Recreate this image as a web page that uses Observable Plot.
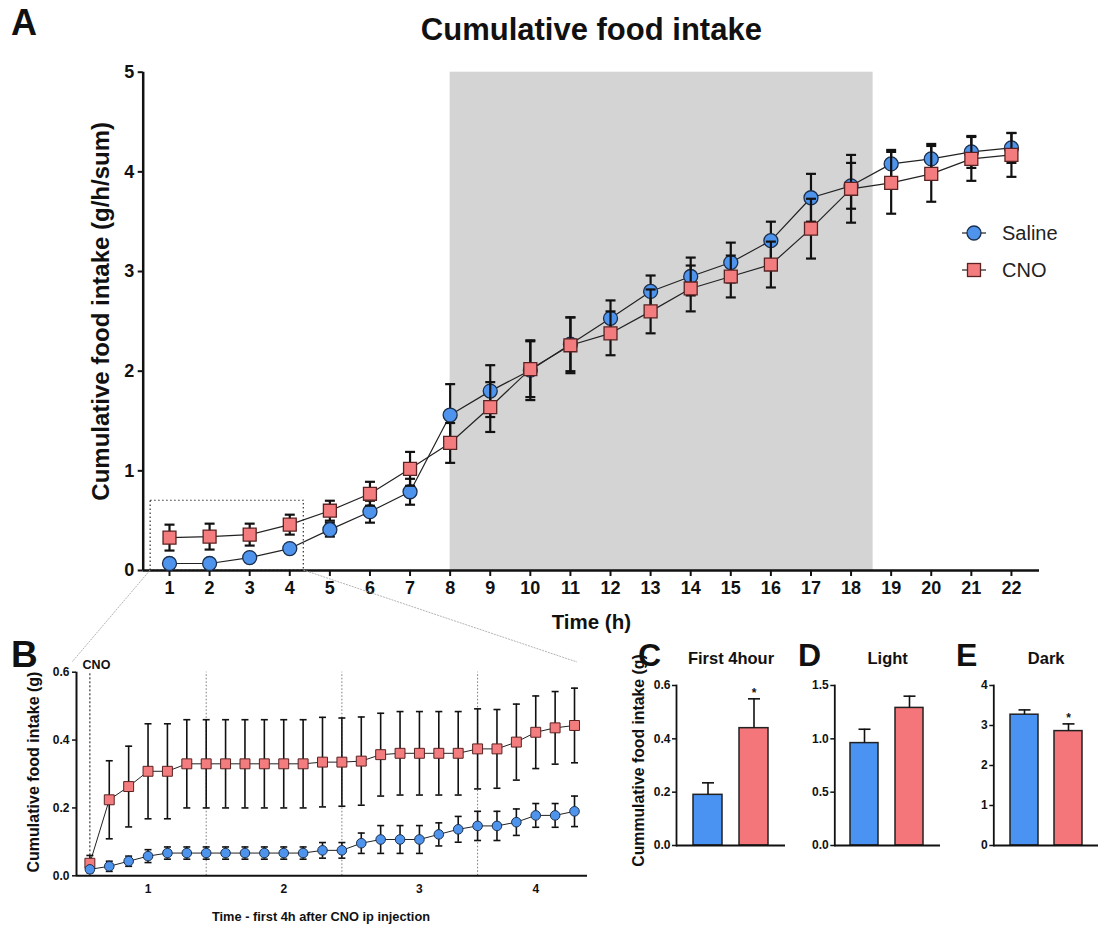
<!DOCTYPE html>
<html><head><meta charset="utf-8">
<script src="https://cdn.jsdelivr.net/npm/d3@7"></script>
<script src="https://cdn.jsdelivr.net/npm/@observablehq/plot@0.6"></script>
<style>
body{margin:0;background:#fff;}
#fig{position:relative;width:1099px;height:927px;font-family:"Liberation Sans",Arial,Helvetica,sans-serif;overflow:hidden;background:#fff;}
#fig > *{position:absolute;}
.letter{font-weight:bold;line-height:1;color:#111;}
</style></head><body><div id="fig"></div>
<script>
// ---------- Panel A: cumulative food intake per hour ----------
const hoursA = [1,2,3,4,5,6,7,8,9,10,11,12,13,14,15,16,17,18,19,20,21,22];
const salineA    = [0.07,0.07,0.13,0.22,0.41,0.59,0.79,1.56,1.80,2.01,2.27,2.53,2.80,2.95,3.09,3.31,3.74,3.86,4.08,4.13,4.20,4.24];
const salineAErr = [0.03,0.03,0.04,0.04,0.07,0.11,0.13,0.31,0.26,0.30,0.27,0.18,0.16,0.19,0.20,0.19,0.24,0.23,0.14,0.15,0.16,0.15];
const cnoA       = [0.33,0.34,0.36,0.46,0.60,0.77,1.02,1.28,1.64,2.02,2.26,2.38,2.60,2.83,2.95,3.07,3.43,3.83,3.89,3.98,4.13,4.17];
const cnoAErr    = [0.13,0.13,0.11,0.10,0.10,0.12,0.17,0.20,0.25,0.28,0.28,0.22,0.22,0.23,0.21,0.23,0.30,0.34,0.31,0.28,0.22,0.22];
const darkPhase  = [8, 18.55];
const zoomBox    = [0.53, 4.35, 0, 0.70];
const yTicksA    = [0,1,2,3,4,5];

// ---------- Panel B: first 4 h after CNO (10-min bins) ----------
const binsB = [0,1,2,3,4,5,6,7,8,9,10,11,12,13,14,15,16,17,18,19,20,21,22,23,24,25];
const salineB    = [0.019,0.028,0.043,0.058,0.067,0.067,0.067,0.067,0.067,0.067,0.067,0.067,0.075,0.075,0.096,0.107,0.107,0.107,0.122,0.137,0.147,0.147,0.158,0.178,0.178,0.190];
const salineBErr = [0.010,0.015,0.015,0.019,0.018,0.018,0.018,0.018,0.018,0.018,0.018,0.018,0.023,0.023,0.030,0.041,0.041,0.041,0.034,0.038,0.043,0.043,0.039,0.035,0.035,0.045];
const cnoB       = [0.037,0.224,0.263,0.308,0.308,0.330,0.330,0.330,0.330,0.330,0.330,0.330,0.335,0.335,0.338,0.357,0.361,0.361,0.361,0.361,0.374,0.374,0.394,0.423,0.436,0.443];
const cnoBErr    = [0.023,0.115,0.119,0.140,0.140,0.130,0.130,0.130,0.130,0.130,0.130,0.130,0.132,0.130,0.130,0.122,0.123,0.123,0.123,0.123,0.118,0.116,0.112,0.107,0.107,0.110];
const hourMarksB = [0,6,13,20];
const hourTicksB = [3,10,17,23];
const hourTickLabelsB = ["1","2","3","4"];
const yTicksB = [0,0.2,0.4,0.6];

// ---------- Panels C, D, E ----------
const groups = ["Saline","CNO"];
const first4Mean = [0.19,0.44], first4Err = [0.045,0.11], first4Sig = [false,true];
const lightMean  = [0.96,1.29], lightErr  = [0.13,0.11],  lightSig  = [false,false];
const darkMean   = [3.27,2.86], darkErr   = [0.12,0.18],  darkSig   = [false,true];

const COL_SAL = "#4f94ec", COL_CNO = "#f37d7e";
const BAR_SAL = "#4a93f2", BAR_CNO = "#f4767a";
const FONT = '"Liberation Sans", Arial, Helvetica, sans-serif';
const capSym = {draw(ctx, size){const r=Math.sqrt(size/Math.PI); ctx.moveTo(-r,0); ctx.lineTo(r,0);}};
const fig = document.getElementById("fig");
function place(el, left, top){el.style.left=left+"px"; el.style.top=top+"px"; fig.appendChild(el); return el;}
const LBL = {textAnchor:"middle", lineAnchor:"middle", fontWeight:"bold"};

// ---------- Plot A ----------
const A = hoursA.map((h,i)=>({h, s:salineA[i], se:salineAErr[i], c:cnoA[i], ce:cnoAErr[i]}));
const xDomA = [0.344, 22.70];
const plotA = Plot.plot({
  width:1099, height:640, marginLeft:142.7, marginRight:60, marginTop:71.7, marginBottom:70,
  x:{domain:xDomA}, y:{domain:[0,5]},
  style:{fontFamily:FONT, fontWeight:"bold", fontSize:"18px", color:"#111", background:"transparent", overflow:"visible"},
  marks:[
    Plot.rect([{x1:darkPhase[0], x2:darkPhase[1]}], {x1:"x1", x2:"x2", y1:0, y2:5, fill:"#d4d4d4"}),
    Plot.rect([zoomBox], {x1:d=>d[0], x2:d=>d[1], y1:d=>d[2], y2:d=>d[3], fill:"none", stroke:"#333", strokeWidth:1.2, strokeDasharray:"1.5,2.5"}),
    Plot.axisX({ticks:hoursA, tickFormat:"d", tickSize:6, tickPadding:5, strokeWidth:2, label:null}),
    Plot.axisY({ticks:yTicksA, tickFormat:"d", tickSize:5, tickPadding:4, strokeWidth:2, label:null}),
    Plot.ruleY([0], {stroke:"#111", strokeWidth:2.5}),
    Plot.ruleX([xDomA[0]], {y1:0, y2:5, stroke:"#111", strokeWidth:2.5}),
    Plot.line(A, {x:"h", y:"s", stroke:"#222", strokeWidth:1.2}),
    Plot.line(A, {x:"h", y:"c", stroke:"#222", strokeWidth:1.2}),
    Plot.ruleX(A, {x:"h", y1:d=>d.s-d.se, y2:d=>d.s+d.se, stroke:"#111", strokeWidth:2.2}),
    Plot.dot(A, {x:"h", y:d=>d.s+d.se, symbol:capSym, r:5, stroke:"#111", strokeWidth:2.2}),
    Plot.dot(A, {x:"h", y:d=>d.s-d.se, symbol:capSym, r:5, stroke:"#111", strokeWidth:2.2}),
    Plot.dot(A, {x:"h", y:"s", r:7, fill:COL_SAL, stroke:"#1b2f4d", strokeWidth:1.3}),
    Plot.ruleX(A, {x:"h", y1:d=>d.c-d.ce, y2:d=>d.c+d.ce, stroke:"#111", strokeWidth:2.2}),
    Plot.dot(A, {x:"h", y:d=>d.c+d.ce, symbol:capSym, r:5, stroke:"#111", strokeWidth:2.2}),
    Plot.dot(A, {x:"h", y:d=>d.c-d.ce, symbol:capSym, r:5, stroke:"#111", strokeWidth:2.2}),
    Plot.dot(A, {x:"h", y:"c", r:7.3, symbol:"square", fill:COL_CNO, stroke:"#5a2222", strokeWidth:1.3}),
    Plot.text(["Cumulative food intake"], {...LBL, text:d=>d, frameAnchor:"top", dy:-42, fontSize:31}),
    Plot.text(["Cumulative food intake (g/h/sum)"], {...LBL, text:d=>d, frameAnchor:"left", dx:-42, dy:-10, rotate:-90, fontSize:24}),
    Plot.text(["Time (h)"], {...LBL, text:d=>d, frameAnchor:"bottom", dy:52, fontSize:20.5})
  ]
});
place(plotA, 0, 0);

// ---------- Plot B ----------
const B = binsB.map((b,i)=>({b, s:salineB[i], se:salineBErr[i], c:cnoB[i], ce:cnoBErr[i]}));
const xDomB = [-0.69, 25.67];
const plotB = Plot.plot({
  width:600, height:287, marginLeft:76, marginRight:13, marginTop:31.7, marginBottom:51.7,
  x:{domain:xDomB}, y:{domain:[0,0.6]},
  style:{fontFamily:FONT, fontWeight:"bold", fontSize:"12px", color:"#111", background:"transparent", overflow:"visible"},
  marks:[
    Plot.ruleX(hourMarksB.slice(0,1), {y1:0, y2:0.6, stroke:"#111", strokeWidth:1, strokeDasharray:"2,2"}),
    Plot.ruleX(hourMarksB.slice(1), {y1:0, y2:0.6, stroke:"#777", strokeWidth:1, strokeDasharray:"1.5,2"}),
    Plot.text([{x:hourMarksB[0], label:"CNO"}], {x:"x", text:"label", frameAnchor:"top", lineAnchor:"middle", dy:-7, dx:-7.3, textAnchor:"start", fontSize:12.5, fontWeight:"bold"}),
    Plot.axisY({ticks:yTicksB, tickFormat:".1f", tickSize:4, tickPadding:3, strokeWidth:1.5, label:null}),
    Plot.axisX({ticks:hourTicksB, tickFormat:d=>hourTickLabelsB[hourTicksB.indexOf(d)], tickSize:0, tickPadding:9, label:null}),
    Plot.ruleY([0], {stroke:"#111", strokeWidth:2}),
    Plot.ruleX([xDomB[0]], {y1:0, y2:0.6, stroke:"#111", strokeWidth:2}),
    Plot.line(B, {x:"b", y:"c", stroke:"#222", strokeWidth:1}),
    Plot.line(B, {x:"b", y:"s", stroke:"#222", strokeWidth:1}),
    Plot.ruleX(B, {x:"b", y1:d=>d.c-d.ce, y2:d=>d.c+d.ce, stroke:"#111", strokeWidth:1.6}),
    Plot.dot(B, {x:"b", y:d=>d.c+d.ce, symbol:capSym, r:3.5, stroke:"#111", strokeWidth:1.6}),
    Plot.dot(B, {x:"b", y:d=>d.c-d.ce, symbol:capSym, r:3.5, stroke:"#111", strokeWidth:1.6}),
    Plot.ruleX(B, {x:"b", y1:d=>d.s-d.se, y2:d=>d.s+d.se, stroke:"#111", strokeWidth:1.6}),
    Plot.dot(B, {x:"b", y:d=>d.s+d.se, symbol:capSym, r:3.5, stroke:"#111", strokeWidth:1.6}),
    Plot.dot(B, {x:"b", y:d=>d.s-d.se, symbol:capSym, r:3.5, stroke:"#111", strokeWidth:1.6}),
    Plot.dot(B, {x:"b", y:"c", r:5.6, symbol:"square", fill:COL_CNO, stroke:"#5a2222", strokeWidth:1}),
    Plot.dot(B, {x:"b", y:"s", r:4.8, fill:COL_SAL, stroke:"#1b2f4d", strokeWidth:1}),
    Plot.text(["Cumulative food intake (g)"], {...LBL, text:d=>d, frameAnchor:"left", dx:-43, dy:-2, rotate:-90, fontSize:16}),
    Plot.text(["Time - first 4h after CNO ip injection"], {...LBL, text:d=>d, frameAnchor:"bottom", dy:41.4, dx:-11, fontSize:12.8})
  ]
});
place(plotB, 0, 640);

// ---------- Bar panels ----------
function barPanel({means, errs, sig, yDomain, ticks, fmt, width, marginLeft, marginRight, title, ylabel}){
  const data = groups.map((g,i)=>({g, v:means[i], e:errs[i], sig:sig[i]}));
  const marks = [
    Plot.barY(data, {x:"g", y:"v", fill:"g", stroke:"#222", strokeWidth:1.5}),
    Plot.ruleX(data, {x:"g", y1:"v", y2:d=>d.v+d.e, stroke:"#111", strokeWidth:1.6}),
    Plot.dot(data, {x:"g", y:d=>d.v+d.e, symbol:capSym, r:6, stroke:"#111", strokeWidth:1.6}),
    Plot.text(data.filter(d=>d.sig), {x:"g", y:d=>d.v+d.e, text:()=>"*", dy:-6, fontSize:12}),
    Plot.axisY({ticks, tickFormat:fmt, tickSize:4, tickPadding:2, strokeWidth:1.5, label:null}),
    Plot.ruleY([0], {stroke:"#111", strokeWidth:1.8}),
    Plot.frame({anchor:"left", stroke:"#111", strokeWidth:1.8}),
    Plot.text([title], {...LBL, text:d=>d, frameAnchor:"top", dy:-27, fontSize:16.5})
  ];
  if (ylabel) marks.push(Plot.text([ylabel], {...LBL, text:d=>d, frameAnchor:"left", dx:-38, dy:-5, rotate:-90, fontSize:15.8}));
  return Plot.plot({
    width, height:287, marginLeft, marginRight, marginTop:45, marginBottom:82,
    x:{domain:groups, paddingInner:0.37, paddingOuter:0.35, axis:null},
    y:{domain:yDomain},
    color:{domain:groups, range:[BAR_SAL, BAR_CNO]},
    style:{fontFamily:FONT, fontWeight:"bold", fontSize:"12px", color:"#111", background:"transparent", overflow:"visible"},
    marks
  });
}
place(barPanel({means:first4Mean, errs:first4Err, sig:first4Sig, yDomain:[0,0.6], ticks:[0,0.2,0.4,0.6], fmt:".1f",
  width:175, marginLeft:61, marginRight:5, title:"First 4hour", ylabel:"Cummulative food intake (g)"}), 615, 640);
place(barPanel({means:lightMean, errs:lightErr, sig:lightSig, yDomain:[0,1.5], ticks:[0,0.5,1,1.5], fmt:".1f",
  width:155, marginLeft:44.3, marginRight:5, title:"Light"}), 790, 640);
place(barPanel({means:darkMean, errs:darkErr, sig:darkSig, yDomain:[0,4], ticks:[0,1,2,3,4], fmt:"d",
  width:154, marginLeft:48.3, marginRight:1, title:"Dark"}), 945, 640);

// ---------- Overlay: legend + zoom connectors ----------
const xA = plotA.scale("x"), yA = plotA.scale("y");
const ov = d3.create("svg").attr("width",1099).attr("height",927).style("pointer-events","none").style("font-family",FONT);
ov.append("line").attr("x1",xA.apply(zoomBox[0])).attr("y1",yA.apply(0)).attr("x2",72).attr("y2",662).attr("stroke","#aaa").attr("stroke-width",0.9).attr("stroke-dasharray","2,1");
ov.append("line").attr("x1",xA.apply(zoomBox[1])).attr("y1",yA.apply(0)).attr("x2",577).attr("y2",662).attr("stroke","#aaa").attr("stroke-width",0.9).attr("stroke-dasharray","2,1");
const leg = [{label:"Saline", sym:"circle"},{label:"CNO", sym:"square"}];
leg.forEach((d,i)=>{
  const y = 233 + i*37;
  ov.append("line").attr("x1",962).attr("x2",986).attr("y1",y).attr("y2",y).attr("stroke","#222").attr("stroke-width",1.2);
  if (d.sym==="circle") ov.append("circle").attr("cx",974).attr("cy",y).attr("r",7).attr("fill",COL_SAL).attr("stroke","#1b2f4d").attr("stroke-width",1.3);
  else ov.append("rect").attr("x",967.5).attr("y",y-6.5).attr("width",13).attr("height",13).attr("fill",COL_CNO).attr("stroke","#5a2222").attr("stroke-width",1.3);
  ov.append("text").attr("x",1002).attr("y",y).attr("dy","0.36em").attr("font-size",20).attr("fill","#222").text(d.label);
});
place(ov.node(), 0, 0);

// ---------- Panel letters ----------
[["A",11,5,36],["B",11,636,37],["C",638,639,32],["D",798,639,32],["E",956,639,32]].forEach(([t,l,tp,fs])=>{
  const d = document.createElement("div"); d.className="letter"; d.textContent=t; d.style.fontSize=fs+"px"; place(d,l,tp);
});
</script></body></html>
